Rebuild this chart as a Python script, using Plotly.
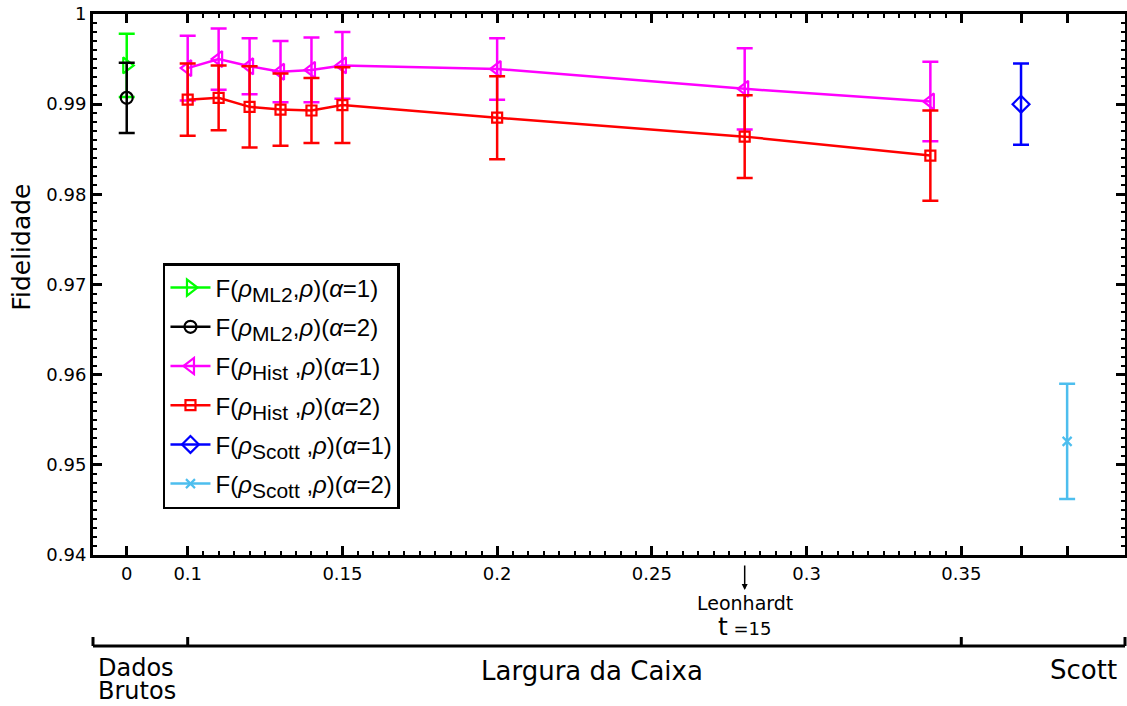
import plotly.graph_objects as go

# ---- data ----
pos_raw = 0.0803              # axis position used for "Dados Brutos" (labelled 0)
pos_scott = [0.3693, 0.3842]  # axis positions used for the Scott estimates

ml2_a1_y, ml2_a1_err = [0.9943], [0.0035]
ml2_a2_y, ml2_a2_err = [0.9907], [0.0039]

hist_x = [0.10, 0.11, 0.12, 0.13, 0.14, 0.15, 0.20, 0.28, 0.34]
hist_a1_y = [0.9940, 0.9950, 0.9942, 0.9936, 0.9938, 0.9943, 0.9939, 0.9917, 0.9903]
hist_a1_err = [0.0036, 0.0034, 0.0031, 0.0034, 0.0036, 0.0037, 0.0034, 0.0045, 0.0044]
hist_a2_y = [0.9905, 0.9907, 0.9897, 0.9894, 0.9893, 0.9899, 0.9885, 0.9864, 0.9843]
hist_a2_err = [0.0040, 0.0036, 0.0045, 0.0040, 0.0036, 0.0042, 0.0046, 0.0046, 0.0050]

scott_a1_y, scott_a1_err = [0.9900], [0.0045]
scott_a2_y, scott_a2_err = [0.9526], [0.0064]

x_tickvals = [pos_raw, 0.1, 0.15, 0.2, 0.25, 0.3, 0.35] + pos_scott
x_ticktext = ["0", "0.1", "0.15", "0.2", "0.25", "0.3", "0.35", "", ""]
y_tickvals = [0.94, 0.95, 0.96, 0.97, 0.98, 0.99, 1.0]
y_ticktext = ["0.94", "0.95", "0.96", "0.97", "0.98", "0.99", "1"]

leonhardt_x = 0.28
X_RANGE = [0.0694, 0.4029]
Y_RANGE = [0.94, 1.0]

# ---- figure ----
LW = 2.5
fig = go.Figure()


def lab(sub, alpha, space=""):
    return ("F(<i>ρ</i><sub><span style='font-size:21px'>%s</span></sub>%s,<i>ρ</i>)(<i>α</i>=%s)"
            % (sub, space, alpha))


def add(x, y, err, color, symbol, size, name, gid):
    fig.add_trace(go.Scatter(
        x=x, y=y, mode="lines+markers", name=name, legendgroup=gid,
        line=dict(color=color, width=LW),
        marker=dict(symbol=symbol, size=size, color=color,
                    line=dict(color=color, width=2.2)),
        error_y=dict(type="data", array=err, visible=True, color=color,
                     thickness=LW, width=8),
    ))


add([pos_raw], ml2_a1_y, ml2_a1_err, "#00FF00", "triangle-right-open", 14, lab("ML2", 1), "g1")
add([pos_raw], ml2_a2_y, ml2_a2_err, "#000000", "circle-open", 12, lab("ML2", 2), "g2")
add(hist_x, hist_a1_y, hist_a1_err, "#FF00FF", "triangle-left-open", 14, lab("Hist", 1, " "), "g3")
add(hist_x, hist_a2_y, hist_a2_err, "#FF0000", "square-open", 10, lab("Hist", 2, " "), "g4")
add([pos_scott[0]], scott_a1_y, scott_a1_err, "#0000FF", "diamond-open", 13, lab("Scott", 1, " "), "g5")
add([pos_scott[1]], scott_a2_y, scott_a2_err, "#4DBEEE", "x-thin-open", 9, lab("Scott", 2, " "), "g6")

# dummy trace for the mirrored (top/right) axes so they carry minor ticks
fig.add_trace(go.Scatter(x=[], y=[], xaxis="x2", yaxis="y2", showlegend=False,
                         hoverinfo="skip"))

minor_x = [round(0.1 + 0.005 * i, 3) for i in range(51)]

common = dict(ticks="inside", ticklen=9, tickwidth=2.5, tickcolor="black",
              showline=True, linewidth=3, linecolor="black",
              showgrid=False, zeroline=False, automargin=False)
xminor = dict(tickmode="array", tickvals=minor_x, ticks="inside",
              ticklen=4, tickwidth=2, tickcolor="black", showgrid=False)
yminor = dict(dtick=0.001, tick0=0.94, ticks="inside",
              ticklen=4, tickwidth=2, tickcolor="black", showgrid=False)

fig.update_layout(
    width=1127, height=706,
    margin=dict(l=93, r=2, t=14, b=151, autoexpand=False),
    paper_bgcolor="white", plot_bgcolor="white",
    font=dict(family="DejaVu Sans", size=18, color="black"),
    showlegend=True,
    legend=dict(x=0.0678, y=0.5397, xanchor="left", yanchor="top",
                bgcolor="white", bordercolor="black", borderwidth=2.5,
                font=dict(family="Liberation Sans", size=24, color="black"),
                tracegroupgap=5, itemwidth=40),
    xaxis=dict(range=X_RANGE, tickmode="array", tickvals=x_tickvals, ticktext=x_ticktext,
               tickfont=dict(family="DejaVu Sans", size=18), minor=xminor, **common),
    yaxis=dict(range=Y_RANGE, tickmode="array", tickvals=y_tickvals, ticktext=y_ticktext,
               tickfont=dict(family="DejaVu Sans", size=18),
               minor=yminor, **common),
    xaxis2=dict(range=X_RANGE, overlaying="x", side="top", anchor="y2",
                tickmode="array", tickvals=x_tickvals, showticklabels=False,
                minor=xminor, **common),
    yaxis2=dict(range=Y_RANGE, overlaying="y", side="right", anchor="x2",
                tickmode="array", tickvals=y_tickvals, showticklabels=False,
                minor=yminor, **common),
)

# y-axis title
fig.add_annotation(xref="paper", yref="paper", x=-0.0688, y=0.570, xanchor="center",
                   yanchor="middle", text="Fidelidade", textangle=-90, showarrow=False,
                   font=dict(family="DejaVu Sans", size=25))

# lower category axis (Dados Brutos | Largura da Caixa | Scott)
ax_y = -0.1682
tick_top = -0.1516
fig.add_shape(type="line", xref="paper", yref="paper", x0=0, x1=1, y0=ax_y, y1=ax_y,
              line=dict(color="black", width=3))
for xv, ref in [(0, "paper"), (0.1, "x"), (0.35, "x"), (1, "paper")]:
    fig.add_shape(type="line", xref=ref, yref="paper", x0=xv, x1=xv, y0=ax_y, y1=tick_top,
                  line=dict(color="black", width=3))

fig.add_annotation(xref="paper", yref="paper", x=0.004, y=-0.2089, xanchor="left", yanchor="middle",
                   text="Dados", showarrow=False, borderpad=0,
                   font=dict(family="DejaVu Sans", size=24))
fig.add_annotation(xref="paper", yref="paper", x=0.004, y=-0.2514, xanchor="left", yanchor="middle",
                   text="Brutos", showarrow=False, borderpad=0,
                   font=dict(family="DejaVu Sans", size=24))
fig.add_annotation(xref="paper", yref="paper", x=0.4835, y=-0.2144, xanchor="center", yanchor="middle",
                   text="Largura da Caixa", showarrow=False,
                   font=dict(family="DejaVu Sans", size=26))
fig.add_annotation(xref="paper", yref="paper", x=0.994, y=-0.2126, xanchor="right", yanchor="middle",
                   text="Scott", showarrow=False, font=dict(family="DejaVu Sans", size=26))

# Leonhardt marker
fig.add_annotation(xref="x", yref="paper", x=leonhardt_x, y=-0.0647, ax=0, ay=-26,
                   text="", showarrow=True, arrowhead=2, arrowsize=0.8, arrowwidth=1.5,
                   arrowcolor="black")
fig.add_annotation(xref="x", yref="paper", x=leonhardt_x, y=-0.0887, yanchor="middle",
                   text="Leonhardt", showarrow=False, borderpad=0,
                   font=dict(family="DejaVu Sans", size=19))
fig.add_annotation(xref="x", yref="paper", x=leonhardt_x, y=-0.132, yanchor="middle",
                   text="<span style='font-size:25px'>t</span> =15", showarrow=False,
                   borderpad=0, font=dict(family="DejaVu Sans", size=18))

fig.write_html("out.html", config={"displayModeBar": False},
               post_script="document.body.style.margin='0px';document.body.style.padding='0px';")
